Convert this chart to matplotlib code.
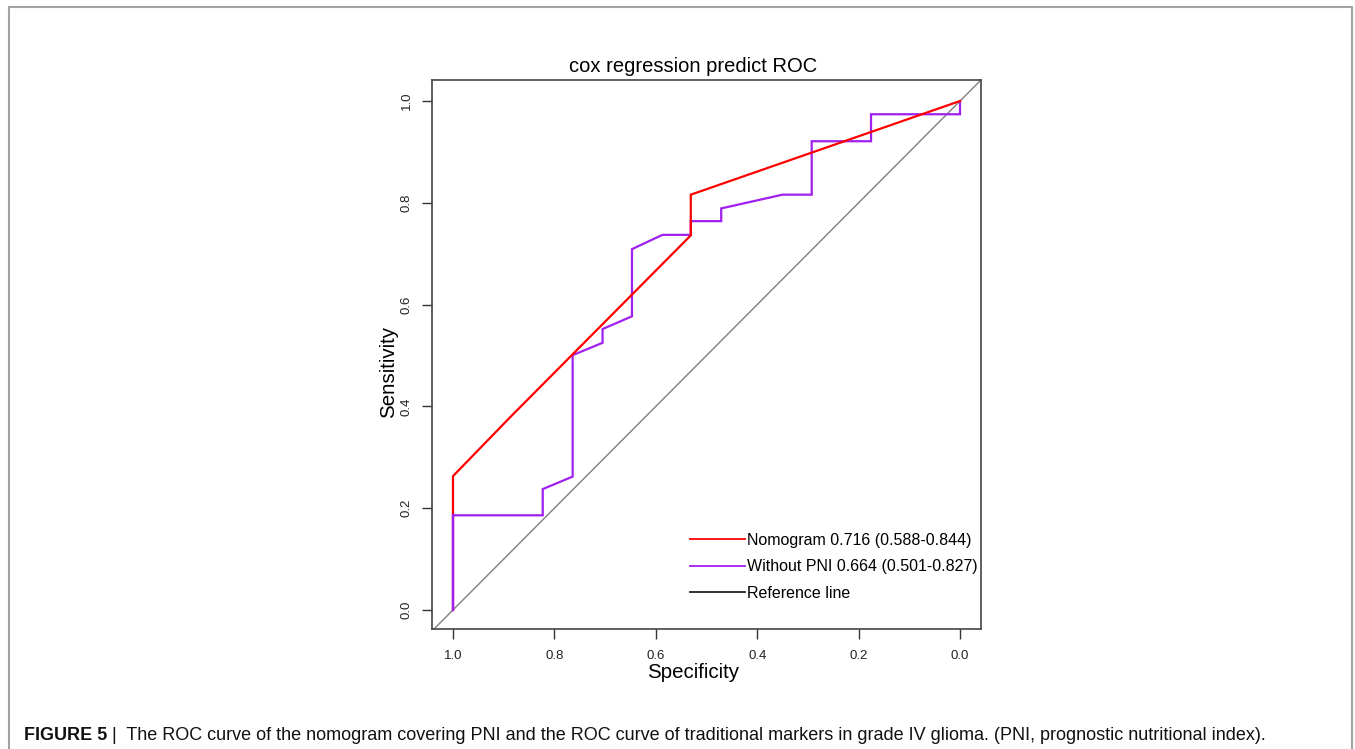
import matplotlib
matplotlib.use("Agg")
import matplotlib.pyplot as plt
from matplotlib.patches import Rectangle
from matplotlib.lines import Line2D

plt.rcParams['font.family'] = ['Liberation Sans', 'DejaVu Sans']

# Data (specificity, sensitivity)
nomo_spec = [1.0, 1.0, 0.886, 0.531, 0.531, 0.0]
nomo_sens = [0.0, 0.263, 0.380, 0.736, 0.816, 1.0]

wo_spec = [1.0, 1.0, 0.823, 0.823, 0.764, 0.764, 0.705, 0.705, 0.647, 0.647,
           0.587, 0.531, 0.531, 0.471, 0.471, 0.350, 0.2925, 0.2925, 0.1755, 0.1755, 0.0, 0.0]
wo_sens = [0.0, 0.186, 0.186, 0.2375, 0.262, 0.5006, 0.525, 0.552, 0.577, 0.709,
           0.737, 0.737, 0.764, 0.764, 0.789, 0.816, 0.816, 0.921, 0.921, 0.974, 0.974, 1.0]

labels = ["Nomogram 0.716 (0.588-0.844)", "Without PNI 0.664 (0.501-0.827)", "Reference line"]
ticks = [1.0, 0.8, 0.6, 0.4, 0.2, 0.0]

W, H = 1355, 749
fig = plt.figure(figsize=(W/100, H/100), dpi=100)
# outer frame
fig.patches.append(Rectangle((9/W, -0.05), (1352-9)/W, 1.05 - 7/H,
                             transform=fig.transFigure, fill=False,
                             edgecolor='#a3a3a3', linewidth=1.5))

ax = fig.add_axes([432/W, 1-629/H, (981-432)/W, (629-80)/H])
ax.set_xlim(1.0414, -0.0414)
ax.set_ylim(-0.0374, 1.0413)

ax.plot([1.0414, -0.0414], [-0.0414, 1.0414], color='#7f7f7f', lw=1.0)
ax.plot(wo_spec, wo_sens, color='#a020f0', lw=1.6, solid_joinstyle='miter')
ax.plot(nomo_spec, nomo_sens, color='#ff0000', lw=1.6, solid_joinstyle='miter')
ax.plot(wo_spec[:2], wo_sens[:2], color='#a020f0', lw=1.6)

ax.set_xticks(ticks)
ax.set_xticklabels([f"{t:.1f}" for t in ticks])
ax.set_yticks(ticks[::-1])
ax.set_yticklabels([f"{t:.1f}" for t in ticks[::-1]], rotation=90, va='center')
ax.tick_params(direction='out', length=7, width=1, color='#333333',
               labelsize=9.5, labelcolor='#222222', pad=8)
ax.tick_params(axis='y', pad=7)
for s in ax.spines.values():
    s.set_color('#444444')
    s.set_linewidth(1.2)

fig.text(693/W, 1-66/H, "cox regression predict ROC", fontsize=14.5,
         ha='center', va='center')
fig.text(693/W, 1-673/H, "Specificity", fontsize=14.8, ha='center', va='center')
fig.text(389/W, 1-372/H, "Sensitivity", fontsize=14.8, ha='center', va='center',
         rotation=90)

handles = [Line2D([], [], color='#ff0000', lw=1.3),
           Line2D([], [], color='#a020f0', lw=1.3),
           Line2D([], [], color='#222222', lw=1.3)]
leg = ax.legend(handles, labels, loc='upper left',
                bbox_to_anchor=(690/W, 1-533/H), bbox_transform=fig.transFigure,
                frameon=False, fontsize=11.5, handlelength=3.45, handletextpad=0.1,
                labelspacing=0.72, borderaxespad=0.0, borderpad=0.0)

# caption
t1 = fig.text(24/W, 1-735/H, "FIGURE 5", fontsize=13.0, fontweight='bold',
              va='center', ha='left', color='#111111')
fig.canvas.draw()
bb = t1.get_window_extent()
fig.text(bb.x1/W + 5/W, 1-735/H,
         "|  The ROC curve of the nomogram covering PNI and the ROC curve of traditional markers in grade IV glioma. (PNI, prognostic nutritional index).",
         fontsize=13.0, va='center', ha='left', color='#111111')

fig.savefig("out.png", dpi=100)
